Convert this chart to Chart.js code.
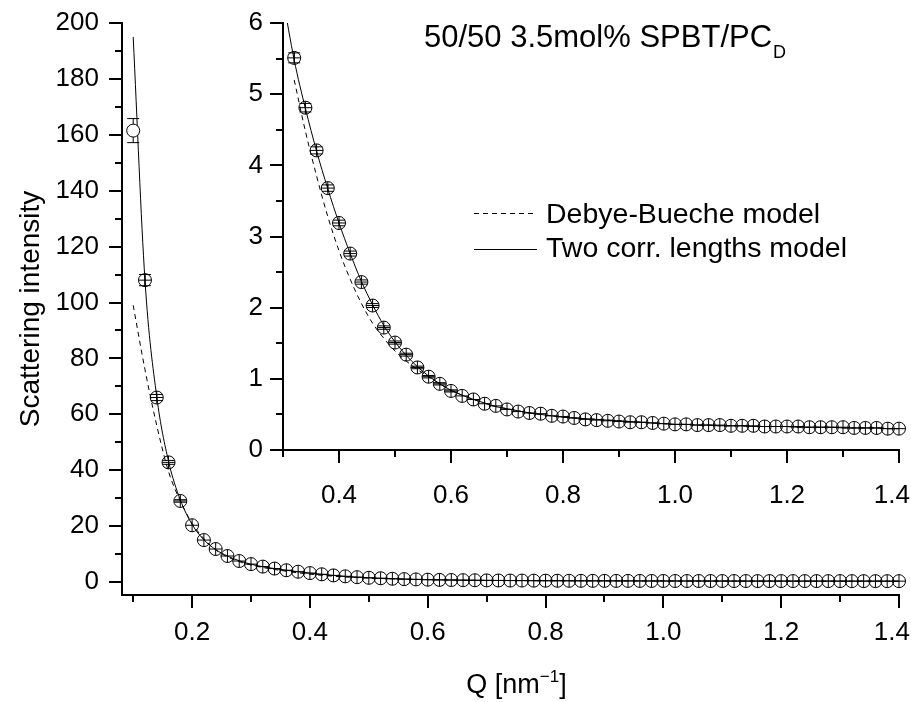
<!DOCTYPE html>
<html>
<head>
<meta charset="utf-8">
<script src="https://cdn.jsdelivr.net/npm/chart.js@4.4.0/dist/chart.umd.min.js"></script>
<style>
  body { margin: 0; background: #fff; }
  #wrap { position: relative; width: 911px; height: 702px; }
  #wrap canvas { position: absolute; left: 0; top: 0; }
</style>
</head>
<body>
<div id="wrap">
  <canvas id="mainChart" width="911" height="702"></canvas>
  <canvas id="insetChart" width="911" height="702"></canvas>
</div>
<script>
// Q [nm^-1], measured intensity and its error
const qValues = [0.10, 0.12, 0.14, 0.16, 0.18, 0.20, 0.22, 0.24, 0.26, 0.28,
  0.30, 0.32, 0.34, 0.36, 0.38, 0.40, 0.42, 0.44, 0.46, 0.48,
  0.50, 0.52, 0.54, 0.56, 0.58, 0.60, 0.62, 0.64, 0.66, 0.68,
  0.70, 0.72, 0.74, 0.76, 0.78, 0.80, 0.82, 0.84, 0.86, 0.88,
  0.90, 0.92, 0.94, 0.96, 0.98, 1.00, 1.02, 1.04, 1.06, 1.08,
  1.10, 1.12, 1.14, 1.16, 1.18, 1.20, 1.22, 1.24, 1.26, 1.28,
  1.30, 1.32, 1.34, 1.36, 1.38, 1.40];
const intensity = [161.5, 108, 66, 42.8, 29, 20.3, 15, 11.8, 9.3, 7.5,
  6.4, 5.51, 4.81, 4.21, 3.68, 3.19, 2.76, 2.36, 2.03, 1.72,
  1.51, 1.34, 1.16, 1.03, 0.93, 0.83, 0.76, 0.71, 0.65, 0.62,
  0.57, 0.54, 0.52, 0.51, 0.48, 0.47, 0.45, 0.43, 0.42, 0.41,
  0.40, 0.39, 0.39, 0.38, 0.37, 0.36, 0.36, 0.35, 0.35, 0.35,
  0.34, 0.34, 0.34, 0.33, 0.33, 0.33, 0.33, 0.32, 0.32, 0.32,
  0.32, 0.31, 0.31, 0.31, 0.30, 0.30];
const intensityErr = [4.3, 2.0, 1.1, 0.7, 0.45, 0.3, 0.22, 0.17, 0.13, 0.1,
  0.08, 0.07, 0.06, 0.05, 0.045, 0.04, 0.035, 0.03, 0.027, 0.024,
  0.022, 0.02, 0.018, 0.017, 0.016, 0.015, 0.014, 0.013, 0.012, 0.012,
  0.011, 0.011, 0.01, 0.01, 0.01, 0.01, 0.01, 0.01, 0.01, 0.01,
  0.01, 0.01, 0.01, 0.01, 0.01, 0.01, 0.01, 0.01, 0.01, 0.01,
  0.01, 0.01, 0.01, 0.01, 0.01, 0.01, 0.01, 0.01, 0.01, 0.01,
  0.01, 0.01, 0.01, 0.01, 0.01, 0.01];

// model curves on the same Q grid
const twoCorrFit = [195, 108, 66.3, 43.2, 29.4, 20.6, 15.1, 11.6, 9.3, 7.6,
  6.35, 5.48, 4.80, 4.20, 3.67, 3.19, 2.76, 2.37, 2.04, 1.75,
  1.52, 1.33, 1.17, 1.04, 0.93, 0.84, 0.77, 0.71, 0.66, 0.61,
  0.58, 0.55, 0.52, 0.50, 0.48, 0.46, 0.45, 0.44, 0.43, 0.42,
  0.41, 0.40, 0.39, 0.38, 0.37, 0.36, 0.36, 0.35, 0.35, 0.34,
  0.34, 0.34, 0.33, 0.33, 0.33, 0.33, 0.32, 0.32, 0.32, 0.32,
  0.31, 0.31, 0.31, 0.31, 0.30, 0.30];
const debyeFit = [99, 76, 56, 39.5, 29, 21, 15.5, 11.5, 9.0, 7.3,
  6.1, 5.2, 4.48, 3.85, 3.28, 2.80, 2.40, 2.06, 1.78, 1.57,
  1.39, 1.25, 1.13, 1.03, 0.93, 0.84, 0.77, 0.71, 0.66, 0.61,
  0.58, 0.55, 0.52, 0.50, 0.48, 0.46, 0.45, 0.44, 0.43, 0.42,
  0.41, 0.40, 0.39, 0.38, 0.37, 0.36, 0.36, 0.35, 0.35, 0.34,
  0.34, 0.34, 0.33, 0.33, 0.33, 0.33, 0.32, 0.32, 0.32, 0.32,
  0.31, 0.31, 0.31, 0.31, 0.30, 0.30];

const mainXMinor = [0.1, 0.3, 0.5, 0.7, 0.9, 1.1, 1.3];
const mainYMinor = [10, 30, 50, 70, 90, 110, 130, 150, 170, 190];
const insetXMinor = [0.3, 0.5, 0.7, 0.9, 1.1, 1.3];
const insetYMinor = [0.5, 1.5, 2.5, 3.5, 4.5, 5.5];

const labelDebye = 'Debye-Bueche model';
const labelTwoCorr = 'Two corr. lengths model';
const sampleName = '50/50 3.5mol% SPBT/PC';
const sampleSub = 'D';

const FONT = "'Liberation Sans', Arial, Helvetica, sans-serif";
Chart.defaults.font.family = FONT;
Chart.defaults.color = '#000';
Chart.defaults.animation = false;

const pts = (ys, from, to) => qValues.slice(from, to).map((x, i) => ({ x, y: ys[from + i] }));

// the last Q label sits at the right edge of the picture, nudge it inwards
const qLabel = (v, i, ticks) => v.toFixed(1) + (i === ticks.length - 1 ? '\u2007' : '');

function axis(min, max, step, pad, fmt, fit) {
  return {
    type: 'linear', min, max,
    border: { display: true, color: '#000', width: 2 },
    grid: { display: true, drawOnChartArea: false, drawTicks: true, tickLength: 13, lineWidth: 2, color: '#000' },
    ticks: { stepSize: step, includeBounds: false, autoSkip: false, maxRotation: 0,
             font: { size: 26 }, padding: pad, callback: fmt },
    afterFit: fit
  };
}

// minor tick marks, placed through the chart's own scales
function minorTicks(xs, ys) {
  return {
    id: 'minorTicks',
    afterDraw(chart) {
      const { ctx, chartArea, scales: { x, y } } = chart;
      ctx.save();
      ctx.strokeStyle = '#000';
      ctx.lineWidth = 2;
      ctx.beginPath();
      xs.forEach(v => {
        const px = Math.round(x.getPixelForValue(v));
        ctx.moveTo(px, chartArea.bottom);
        ctx.lineTo(px, chartArea.bottom + 7);
      });
      ys.forEach(v => {
        const py = Math.round(y.getPixelForValue(v));
        ctx.moveTo(chartArea.left - 7, py);
        ctx.lineTo(chartArea.left, py);
      });
      ctx.stroke();
      ctx.restore();
    }
  };
}

const errorBars = {
  id: 'errorBars',
  beforeDatasetsDraw(chart) {
    const { ctx, scales: { x, y } } = chart;
    ctx.save();
    ctx.strokeStyle = '#000';
    ctx.lineWidth = 1;
    chart.data.datasets.forEach(ds => {
      if (!ds.yErr) return;
      ds.data.forEach((p, j) => {
        const px = x.getPixelForValue(p.x);
        const top = y.getPixelForValue(p.y + ds.yErr[j]);
        const bot = y.getPixelForValue(p.y - ds.yErr[j]);
        if (bot - top < 2) return;
        ctx.beginPath();
        ctx.moveTo(px, top); ctx.lineTo(px, bot);
        ctx.moveTo(px - 6, top); ctx.lineTo(px + 6, top);
        ctx.moveTo(px - 6, bot); ctx.lineTo(px + 6, bot);
        ctx.stroke();
      });
    });
    ctx.restore();
  }
};

function lineSet(label, ys, from, dash) {
  return { label, data: pts(ys, from), showLine: true, pointRadius: 0, borderColor: '#000',
           borderWidth: 1, borderDash: dash, cubicInterpolationMode: 'monotone', order: 3 };
}
function pointSets(from) {
  return [
    { label: 'data', data: pts(intensity, from), yErr: intensityErr.slice(from), pointStyle: 'circle',
      pointRadius: 6.5, borderWidth: 1, borderColor: '#000', backgroundColor: 'rgba(0,0,0,0)', clip: false, order: 1 },
    { label: 'data+', data: pts(intensity, from), pointStyle: 'cross',
      pointRadius: 6.5, borderWidth: 1, borderColor: '#000', clip: false, order: 0 }
  ];
}

const common = {
  responsive: false,
  events: [],
  plugins: { legend: { display: false }, tooltip: { enabled: false } }
};

// ---- main chart ----
const qTitle = {
  id: 'qTitle',
  afterDraw(chart) {
    const { ctx, chartArea } = chart;
    const parts = [['Q [nm', 27, 0], ['\u22121', 17, -11], [']', 27, 0]];
    let w = 0;
    parts.forEach(p => { ctx.font = p[1] + 'px ' + FONT; p.w = ctx.measureText(p[0]).width; w += p.w; });
    let x = (chartArea.left + chartArea.right) / 2 + 6 - w / 2;
    ctx.save();
    ctx.fillStyle = '#000';
    ctx.textBaseline = 'alphabetic';
    parts.forEach(p => {
      ctx.font = p[1] + 'px ' + FONT;
      ctx.fillText(p[0], x, 693 + p[2]);
      x += p.w;
    });
    ctx.restore();
  }
};

new Chart(document.getElementById('mainChart'), {
  type: 'scatter',
  data: {
    datasets: [
      lineSet(labelDebye, debyeFit, 0, [5, 4]),
      lineSet(labelTwoCorr, twoCorrFit, 0, []),
      { label: 'excluded', data: pts(intensity, 0, 1), yErr: intensityErr.slice(0, 1), pointStyle: 'circle',
        pointRadius: 6.5, borderWidth: 1, borderColor: '#000', backgroundColor: '#fff', clip: false, order: 1 },
      ...pointSets(1)
    ]
  },
  options: {
    ...common,
    layout: { padding: { top: 23, right: 12, left: 0, bottom: 0 } },
    scales: {
      x: axis(0.081, 1.4, 0.2, 9, qLabel,
              s => { s.height = 107; s.paddingLeft = 0; s.paddingRight = 0; }),
      y: Object.assign(axis(-4.65, 200, 20, 10, v => String(Math.round(v)),
              s => { s.width = 122; s.paddingTop = 0; s.paddingBottom = 0; }),
        { title: { display: true, text: 'Scattering intensity', font: { size: 28 }, padding: { top: 14, bottom: 0 } } })
    }
  },
  plugins: [errorBars, minorTicks(mainXMinor, mainYMinor), qTitle]
});

// ---- inset chart ----
const insetText = {
  id: 'insetText',
  afterDraw(chart) {
    const { ctx } = chart;
    ctx.save();
    ctx.fillStyle = '#000';
    ctx.textBaseline = 'alphabetic';
    ctx.font = '31px ' + FONT;
    ctx.fillText(sampleName, 424, 47);
    const w = ctx.measureText(sampleName).width;
    ctx.font = '18px ' + FONT;
    ctx.fillText(sampleSub, 424 + w + 1, 58);

    // legend, styles taken from the line datasets
    const rows = [[labelDebye, 213, 223], [labelTwoCorr, 249, 257]];
    rows.forEach(([label, ly, by]) => {
      const ds = chart.data.datasets.find(d => d.label === label);
      ctx.strokeStyle = ds.borderColor;
      ctx.lineWidth = ds.borderWidth;
      ctx.setLineDash(ds.borderDash);
      ctx.beginPath();
      ctx.moveTo(474, ly + 0.5);
      ctx.lineTo(537, ly + 0.5);
      ctx.stroke();
      ctx.setLineDash([]);
      ctx.font = '28.5px ' + FONT;
      ctx.fillText(label, 546, by);
    });
    ctx.restore();
  }
};

new Chart(document.getElementById('insetChart'), {
  type: 'scatter',
  data: {
    datasets: [
      lineSet(labelDebye, debyeFit, 11, [5, 4]),
      lineSet(labelTwoCorr, twoCorrFit, 10, []),
      ...pointSets(11)
    ]
  },
  options: {
    ...common,
    layout: { padding: { top: 23, right: 12, left: 0, bottom: 0 } },
    scales: {
      x: axis(0.3, 1.4, 0.2, 17, qLabel,
              s => { s.height = 252; s.paddingLeft = 0; s.paddingRight = 0; }),
      y: axis(0, 6, 1, 7, v => String(Math.round(v)),
              s => { s.width = 283; s.paddingTop = 0; s.paddingBottom = 0; })
    }
  },
  plugins: [errorBars, minorTicks(insetXMinor, insetYMinor), insetText]
});
</script>
</body>
</html>
